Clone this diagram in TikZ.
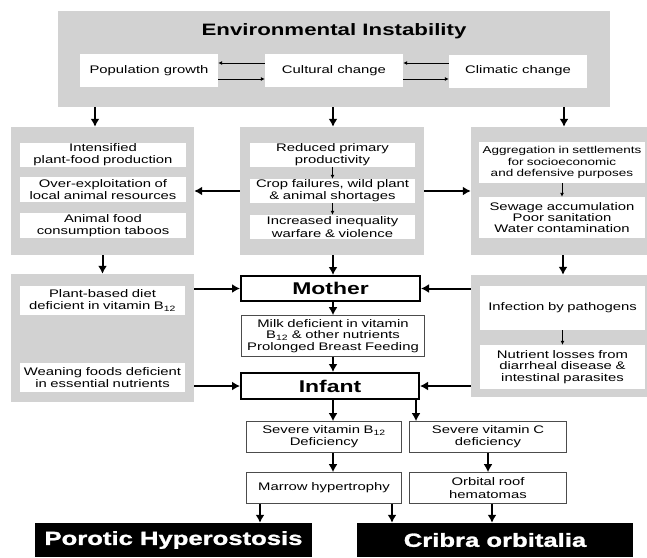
\documentclass[tikz,border=0pt]{standalone}
\usepackage{fontspec}
\setmainfont{Liberation Sans}[FakeStretch=1.35]
\newfontfamily\heavyfont{Liberation Sans}[FakeStretch=1.35,BoldFeatures={FakeBold=1.4}]
\usetikzlibrary{arrows.meta}
\definecolor{zonegray}{HTML}{D2D2D2}
\newcommand\boxfont{\fontsize{11}{12.2}\selectfont}
\newcommand\tightfont{\fontsize{11}{11.4}\selectfont}

\begin{document}
\begin{tikzpicture}[x=1pt,y=-1pt,
    grayzone/.style={fill=zonegray,draw=none,inner sep=0pt},
    whitebox/.style={fill=white,inner sep=0pt,align=center,font=\boxfont},
    framebox/.style={whitebox,draw=gray!60!black,line width=0.7pt},
    keybox/.style={fill=white,draw=black,line width=2.4pt,inner sep=0pt,
      font=\fontsize{17}{20}\selectfont\bfseries},
    blackbox/.style={fill=black,text=white,inner sep=0pt,
      font=\heavyfont\fontsize{19}{22}\selectfont\bfseries},
    bigarrow/.style={-{Latex[length=8pt,width=9pt]},line width=2pt},
    smallarrow/.style={-{Latex[length=4pt,width=4pt]},line width=0.8pt}]
    \useasboundingbox (0,0) rectangle (647,557);

    \node[grayzone,minimum width=552,minimum height=96] (envbox) at (334,59) {};
    \node[font=\fontsize{16.5}{19}\selectfont\bfseries] (title) at (334,31) {Environmental Instability};
    \node[whitebox,minimum width=138,minimum height=33] (pop) at (149,70.5) {Population growth};
    \node[whitebox,minimum width=138,minimum height=33] (cult) at (334,70.5) {Cultural change};
    \node[whitebox,minimum width=138,minimum height=33] (clim) at (518,71) {Climatic change};

    \node[grayzone,minimum width=183,minimum height=128] (leftA) at (102.5,191) {};
    \node[whitebox,text width=162,minimum width=166,minimum height=24] (intens) at (103,155)
      {Intensified\\plant-food production};
    \node[whitebox,text width=162,minimum width=166,minimum height=25] (overex) at (103,189.5)
      {Over-exploitation of\\local animal resources};
    \node[whitebox,text width=162,minimum width=166,minimum height=25] (taboo) at (103,225.5)
      {Animal food\\consumption taboos};

    \node[grayzone,minimum width=184,minimum height=128] (midA) at (332,191) {};
    \node[whitebox,text width=161,minimum width=165,minimum height=24] (reduced) at (332.5,155)
      {Reduced primary\\productivity};
    \node[whitebox,text width=161,minimum width=165,minimum height=24] (crop) at (332.5,191)
      {Crop failures, wild plant\\\& animal shortages};
    \node[whitebox,text width=161,minimum width=165,minimum height=24] (inequal) at (332.5,227)
      {Increased inequality\\warfare \& violence};

    \node[grayzone,minimum width=176,minimum height=128] (rightA) at (559,191) {};
    \node[whitebox,font=\fontsize{10}{11.4}\selectfont,text width=162,minimum width=166,
      minimum height=41] (aggreg) at (562,162.5)
      {Aggregation in settlements\\for socioeconomic\\and defensive purposes};
    \node[whitebox,font=\tightfont,text width=162,minimum width=166,minimum height=41] (sewage) at (562,217.5)
      {Sewage accumulation\\Poor sanitation\\Water contamination};

    \node[grayzone,minimum width=183,minimum height=128] (leftB) at (102.5,338) {};
    \node[whitebox,text width=161,minimum width=165,minimum height=29] (plantdiet) at (102.5,300.5)
      {Plant-based diet\\deficient in vitamin B\textsubscript{12}};
    \node[whitebox,text width=161,minimum width=165,minimum height=29] (weaning) at (102.5,377.5)
      {Weaning foods deficient\\in essential nutrients};

    \node[grayzone,minimum width=176,minimum height=122] (rightB) at (559,336) {};
    \node[whitebox,text width=161,minimum width=165,minimum height=44] (infect) at (562.5,308)
      {Infection by pathogens};
    \node[whitebox,font=\tightfont,text width=161,minimum width=165,minimum height=44] (nutrient) at (562.5,367)
      {Nutrient losses from\\diarrheal disease \&\\intestinal parasites};

    \node[keybox,minimum width=178.6,minimum height=24.6] (mother) at (330.5,288.5) {Mother};
    \node[framebox,font=\tightfont,text width=180,minimum width=183,minimum height=41] (milk) at (333,336)
      {Milk deficient in vitamin\\B\textsubscript{12} \& other nutrients\\Prolonged Breast Feeding};
    \node[keybox,minimum width=177.6,minimum height=25.6] (infant) at (330,386) {Infant};

    \node[framebox,text width=152,minimum width=155,minimum height=31] (sevB) at (324,437)
      {Severe vitamin B\textsubscript{12}\\Deficiency};
    \node[framebox,text width=154,minimum width=157,minimum height=31] (sevC) at (488,437)
      {Severe vitamin C\\deficiency};
    \node[framebox,text width=152,minimum width=155,minimum height=31] (marrow) at (324,488)
      {Marrow hypertrophy};
    \node[framebox,text width=154,minimum width=157,minimum height=31] (orbital) at (488,488)
      {Orbital roof\\hematomas};

    \node[blackbox,minimum width=277,minimum height=34] (porotic) at (173.5,540) {Porotic Hyperostosis};
    \node[blackbox,minimum width=276,minimum height=34] (cribra) at (495,540) {Cribra orbitalia};

    \draw[smallarrow] (cult.west |- 0,63) -- (pop.east |- 0,63);
    \draw[smallarrow] (pop.east |- 0,79) -- (cult.west |- 0,79);
    \draw[smallarrow] (clim.west |- 0,63) -- (cult.east |- 0,63);
    \draw[smallarrow] (cult.east |- 0,79) -- (clim.west |- 0,79);

    \draw[bigarrow] (95,0 |- envbox.south) -- (95,0 |- leftA.north);
    \draw[bigarrow] (333,0 |- envbox.south) -- (333,0 |- midA.north);
    \draw[bigarrow] (564,0 |- envbox.south) -- (564,0 |- rightA.north);

    \draw[smallarrow] (reduced.south) -- (crop.north);
    \draw[smallarrow] (crop.south) -- (inequal.north);
    \draw[smallarrow] (aggreg.south) -- (sewage.north);
    \draw[smallarrow] (infect.south) -- (nutrient.north);

    \draw[bigarrow] (midA.west) -- (leftA.east);
    \draw[bigarrow] (midA.east) -- (rightA.west);

    \draw[bigarrow] (leftA.south) -- (leftB.north);
    \draw[bigarrow] (333,0 |- midA.south) -- (333,0 |- mother.north);
    \draw[bigarrow] (563,0 |- rightA.south) -- (563,0 |- rightB.north);

    \draw[bigarrow] (leftB.east |- mother.west) -- (mother.west);
    \draw[bigarrow] (leftB.east |- infant.west) -- (infant.west);
    \draw[bigarrow] (rightB.west |- mother.east) -- (mother.east);
    \draw[bigarrow] (rightB.west |- infant.east) -- (infant.east);

    \draw[bigarrow] (333,0 |- mother.south) -- (333,0 |- milk.north);
    \draw[bigarrow] (333,0 |- milk.south) -- (333,0 |- infant.north);
    \draw[bigarrow] (333,0 |- infant.south) -- (333,0 |- sevB.north);
    \draw[bigarrow] (416,0 |- infant.south) -- (416,0 |- sevC.north);
    \draw[bigarrow] (333,0 |- sevB.south) -- (333,0 |- marrow.north);
    \draw[bigarrow] (sevC.south) -- (orbital.north);
    \draw[bigarrow] (260,0 |- marrow.south) -- (260,0 |- porotic.north);
    \draw[bigarrow] (392,0 |- marrow.south) -- (392,0 |- cribra.north);
    \draw[bigarrow] (492,0 |- orbital.south) -- (492,0 |- cribra.north);
  \end{tikzpicture}
\end{document}
